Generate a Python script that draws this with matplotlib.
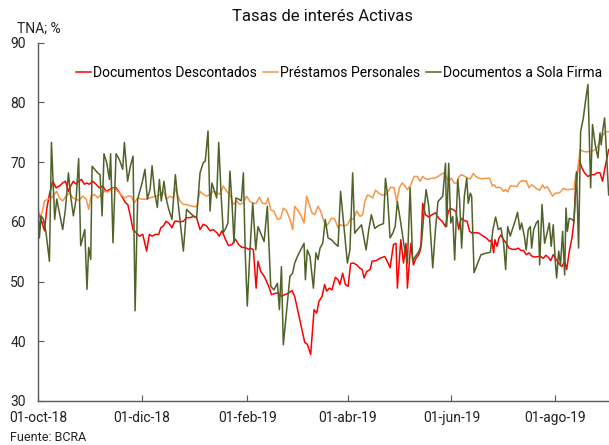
import matplotlib
matplotlib.use("Agg")
import matplotlib.pyplot as plt
import pandas as pd

plt.rcParams['font.family'] = ['Roboto', 'DejaVu Sans']

# dias desde 01-oct-18, tasa (TNA %)
inicio = pd.Timestamp("2018-10-01")

documentos_descontados = [
    (0, 61.2), (1.0, 61), (2.2, 59.8), (3.6, 58.5), (4.9, 62.1), (6.5, 64.6), (8.5, 66.8), (10.4, 65.7),
    (12.4, 66), (14.3, 66.5), (15.9, 66.8), (17.7, 65.1), (19.0, 66), (20.6, 66.8), (22.2, 66.3),
    (23.7, 66.8), (25.3, 67.1), (27.1, 66.3), (28.4, 66.5), (30.0, 66.3), (32.0, 66.8), (33.9, 66.3),
    (35.9, 65.7), (37.9, 66), (39.8, 65.1), (41.8, 65.4), (43.7, 65.7), (45.7, 65.7), (47.7, 64.9),
    (49.6, 64), (51.2, 63.2), (52.6, 62.9), (54.1, 61), (55.7, 58.7), (57.5, 58.2), (59.4, 57.6),
    (61.4, 57.9), (63.7, 55.1), (65.3, 57.9), (66.9, 57.6), (68.8, 57.9), (70.8, 57.9), (72.0, 59),
    (73.5, 59.3), (75.1, 60.1), (76.7, 59.8), (78.6, 59), (80.2, 60.1), (81.8, 60.1), (83.3, 60),
    (85.3, 60.1), (87.2, 60.7), (89.2, 60.7), (91.2, 60.9), (93.1, 60.7), (95.1, 58.7), (97.0, 59.6),
    (99.0, 59.3), (101.0, 58.5), (102.9, 58.7), (104.9, 58.2), (106.4, 57.6), (108.0, 58.5),
    (110.0, 57.1), (111.9, 56), (113.9, 56.2), (115.9, 57.1), (117.8, 56.2), (119.8, 55.7),
    (121.7, 55.7), (123.7, 55.4), (124.9, 55.6), (126.5, 55.3), (128.1, 48.9), (129.2, 53.4),
    (130.8, 51.7), (132.8, 50.9), (134.3, 50), (135.9, 48.9), (137.1, 47.8), (139.0, 48),
    (141.0, 48.1), (143.0, 47.5), (144.9, 47.8), (146.9, 48), (149.2, 48.5), (150.8, 47.5),
    (156.7, 39.8), (158.2, 39.5), (160.2, 37.8), (162.2, 45.3), (163.7, 44.7), (165.1, 46.7),
    (166.9, 47.5), (168.4, 49.5), (169.6, 48.4), (171.2, 48.9), (172.7, 48.6), (174.7, 50.7),
    (176.3, 50.3), (177.4, 49.5), (179.0, 51.4), (180.6, 49.5), (182.2, 49.2), (183.7, 53),
    (185.3, 53.1), (187.3, 52.8), (188.9, 52.3), (190.5, 52), (191.6, 50.6), (193.2, 51.7),
    (195.2, 52), (196.3, 53.4), (198.7, 53.5), (201.0, 53.9), (203.8, 54.2), (205.7, 53.1),
    (206.9, 52.3), (208.9, 56.2), (210.4, 56.4), (211.2, 48.9), (213.2, 57), (214.8, 53.1),
    (216.3, 56.4), (217.1, 48.9), (219.1, 56.4), (220.6, 52.8), (222.2, 53.9), (223.8, 54.5),
    (225.0, 55.6), (226.1, 63.1), (227.7, 61.2), (229.7, 60.8), (231.6, 61.2), (233.6, 61.5),
    (235.5, 60.6), (237.5, 60.1), (239.5, 59.2), (241.0, 61.5), (242.2, 62.3), (244.2, 62),
    (245.7, 61.7), (247.3, 58.7), (248.6, 60.6), (250.6, 60.2), (252.2, 60.1), (253.7, 58.4),
    (255.3, 58.1), (257.3, 58.2), (259.2, 58.1), (261.2, 57.7), (263.5, 57.3), (265.5, 56.7),
    (266.7, 57), (267.8, 54.8), (268.6, 57), (269.8, 55.9), (271.0, 57.3), (272.1, 57.8),
    (273.7, 57), (275.3, 56.4), (276.9, 55.6), (278.8, 55.4), (280.8, 55.4), (282.3, 55.6),
    (283.9, 55.2), (285.5, 55.2), (287.0, 54.5), (288.6, 54.8), (290.6, 54.2), (292.5, 54.1),
    (294.1, 54.2), (295.5, 54.2), (297.0, 53.9), (298.6, 54.4), (300.2, 54), (301.4, 53.5),
    (302.9, 54.5), (304.9, 53.6), (306.8, 52.8), (308.0, 52.5), (309.6, 53.4), (310.8, 52),
    (312.3, 55), (313.9, 57.3), (315.1, 60.1), (315.9, 64.8), (317.0, 67.9), (318.2, 70.4),
    (319.8, 69), (321.3, 68.2), (323.3, 67.6), (325.3, 67.9), (327.2, 67.9), (328.4, 68.2),
    (330.4, 68.2), (331.9, 66.8), (333.5, 69.3), (335.5, 72.1),
]

prestamos_personales = [
    (0, 61.5), (1.0, 61), (2.2, 61.5), (3.6, 63.5), (5.5, 63.8), (7.5, 64), (9.4, 64.6), (10.8, 65.1),
    (12.4, 64), (14.3, 63.5), (16.3, 64.3), (18.3, 64.9), (20.2, 64), (22.2, 63.8), (23.7, 63.6),
    (26.1, 64.3), (28.1, 63.8), (29.6, 62.1), (31.0, 64.3), (33.0, 64.6), (34.9, 64), (36.9, 64.6),
    (38.8, 65.1), (40.8, 65), (42.8, 65.4), (44.7, 65.7), (46.7, 65.1), (48.6, 64.6), (50.6, 64),
    (52.6, 64.3), (54.5, 64.3), (56.5, 63.2), (58.4, 64), (60.4, 63.8), (63.7, 63.8), (65.7, 64),
    (67.6, 64.2), (69.6, 64.3), (71.6, 64.6), (73.5, 65.1), (75.5, 63.8), (77.4, 64.3), (79.4, 64),
    (80.6, 65.7), (81.8, 64.6), (83.3, 63.5), (85.3, 62.9), (87.2, 62.9), (89.2, 62.7), (91.2, 62.6),
    (93.1, 62.5), (95.1, 65.1), (97.0, 64.6), (99.0, 64.3), (101.0, 64.6), (102.9, 65.1),
    (104.9, 64.9), (106.8, 64.6), (108.8, 66), (110.8, 65.1), (112.7, 64.6), (114.7, 62.9),
    (116.6, 63.5), (118.6, 62.9), (120.6, 63.2), (122.5, 64.3), (124.5, 63.4), (126.5, 63.1),
    (128.1, 63.1), (130.0, 64.1), (132.0, 63.1), (133.9, 63), (135.1, 64), (136.7, 62),
    (138.6, 61.8), (140.6, 60.4), (142.6, 60.6), (144.1, 62.3), (146.1, 61.8), (148.0, 60.4),
    (149.6, 58.7), (150.8, 62.6), (152.4, 62), (154.3, 61.2), (156.3, 59.8), (157.8, 64.3),
    (159.4, 62.9), (161.0, 61.5), (162.6, 61.2), (164.5, 62.6), (166.1, 61.8), (167.6, 60.4),
    (169.2, 59.2), (170.8, 59.8), (172.4, 60.6), (174.3, 60.5), (176.3, 59), (177.8, 59.5),
    (179.8, 59.3), (181.8, 59.5), (183.7, 60.6), (185.3, 60.4), (187.3, 61.8), (189.3, 60.9),
    (190.8, 61.2), (192.0, 63.4), (193.6, 64.5), (195.2, 64.3), (196.7, 64), (198.3, 65.3),
    (200.3, 64.8), (202.2, 64.5), (204.2, 64.5), (205.7, 65.1), (207.3, 65.8), (209.3, 65.7),
    (210.8, 63.4), (212.4, 65.7), (214.0, 66.5), (215.9, 65.9), (217.1, 65.4), (219.1, 66.2),
    (221.0, 67.6), (223.0, 67.6), (224.6, 66.8), (226.1, 67.6), (227.7, 67.2), (229.3, 67.1),
    (231.2, 67.3), (233.2, 67.3), (235.1, 67.6), (236.7, 67.9), (238.3, 68.2), (239.8, 67.6),
    (241.4, 66.8), (243.0, 67.3), (244.6, 66.5), (246.3, 66.5), (247.5, 67.6), (249.0, 67.9),
    (251.0, 67.6), (252.5, 67.3), (254.1, 67.2), (255.9, 68.1), (257.3, 67.6), (259.2, 67.3),
    (261.2, 67.2), (263.1, 67.3), (265.5, 67.3), (267.1, 66), (268.2, 66.2), (269.4, 65.7),
    (270.6, 65.8), (272.1, 65.7), (273.7, 65.1), (274.9, 65.4), (276.1, 65), (277.6, 66),
    (279.6, 66), (281.6, 65.9), (282.7, 66.5), (284.3, 66.9), (285.9, 66.8), (287.0, 66.9),
    (288.6, 65.7), (290.2, 66.2), (291.7, 65.9), (293.3, 65.5), (294.9, 65.3), (295.5, 65.6),
    (296.6, 66.2), (297.8, 65.6), (299.4, 65.9), (300.9, 65.1), (302.5, 64.3), (304.1, 64.8),
    (305.7, 64.8), (307.2, 65), (308.8, 65.6), (310.4, 65.4), (311.9, 65.4), (313.5, 65.5),
    (315.1, 65.4), (316.2, 67.9), (317.4, 68.7), (318.6, 72.1), (320.6, 71.8), (322.5, 71.7),
    (324.5, 71.8), (326.4, 71.9), (328.4, 72.2), (330.4, 73.5), (332.3, 74.6), (333.9, 75.1),
    (335.5, 75.1),
]

sola_firma = [
    (0, 62.1), (0.6, 57.3), (1.6, 61), (3.0, 60.4), (4.5, 58.2), (6.5, 53.4), (7.7, 73.3), (9.6, 60.4),
    (10.8, 63.8), (12.4, 61.5), (14.3, 58.7), (15.9, 62.1), (17.7, 68.2), (19.0, 64.3), (20.6, 61),
    (22.2, 63.8), (23.7, 70.6), (24.9, 56), (27.3, 58.7), (28.6, 48.7), (29.6, 55.7), (30.8, 53.7),
    (31.6, 69.3), (33.1, 68.8), (34.9, 68.2), (36.3, 67.9), (37.5, 61), (38.6, 71.4), (40.2, 69.9),
    (41.8, 67.1), (42.5, 71.4), (43.9, 56.5), (45.7, 71.4), (47.7, 70.4), (49.6, 68.8), (50.6, 73.3),
    (52.5, 66.8), (54.1, 69.3), (55.7, 71), (56.9, 45.1), (58.4, 63.8), (61.0, 66.5), (62.7, 68.8),
    (64.1, 63.8), (65.7, 65.4), (66.9, 69.4), (68.4, 64.9), (70.0, 62.4), (71.2, 67.1), (72.3, 63.5),
    (73.9, 66.8), (75.1, 64), (76.7, 62.1), (78.6, 60.4), (80.6, 67.9), (81.8, 64.3), (83.3, 60.4),
    (85.3, 55.1), (87.2, 62.1), (89.2, 61.5), (91.2, 61), (93.1, 60.7), (95.1, 68.2), (97.0, 69.9),
    (98.2, 70.2), (99.8, 75.2), (101.0, 61.8), (102.1, 66.5), (103.7, 65.1), (104.9, 64),
    (106.1, 73.3), (107.6, 64), (108.8, 58.2), (110.4, 59), (111.5, 59.8), (112.7, 68.5),
    (113.9, 63.2), (115.1, 56.5), (116.2, 64), (117.8, 63.8), (119.4, 63.5), (120.6, 68.2),
    (121.7, 54.8), (122.9, 45.9), (124.5, 55.3), (126.1, 63.1), (127.9, 55.3), (129.2, 59.2),
    (130.8, 58.1), (132.8, 56.7), (134.7, 62.6), (136.7, 49.2), (138.6, 48.6), (140.6, 49.7),
    (141.8, 45.3), (143.0, 52.5), (144.1, 39.4), (146.1, 45.3), (148.0, 50.9), (149.6, 51.4),
    (150.8, 53.1), (152.4, 54.2), (154.3, 55.3), (156.3, 56.4), (157.1, 50.3), (158.2, 55.3),
    (159.8, 54.2), (161.8, 48.9), (163.3, 54.8), (164.5, 53.7), (165.7, 55.6), (167.3, 56.4),
    (168.8, 60.4), (170.4, 57.3), (172.4, 57), (174.3, 56.4), (176.3, 55.9), (177.8, 65.1),
    (179.8, 59), (181.8, 53.1), (183.3, 55.3), (184.9, 68.2), (186.1, 58.1), (187.7, 58.7),
    (190.1, 59.5), (192.8, 55.3), (194.4, 58.7), (195.9, 61.2), (197.9, 58.9), (200.3, 59.4),
    (203.0, 59.7), (204.2, 67.3), (205.4, 64.5), (206.9, 57.3), (208.5, 58.1), (209.9, 59.2),
    (211.2, 63.4), (213.2, 59.8), (215.2, 55.9), (217.1, 53.1), (218.7, 65.7), (220.2, 53.4),
    (221.8, 54.2), (223.8, 55), (225.3, 56.2), (226.9, 61.7), (228.1, 65.4), (229.7, 62.6),
    (232.0, 52.3), (233.6, 58.7), (235.1, 63.4), (237.9, 64.3), (239.5, 69.8), (240.2, 59.2),
    (241.4, 69.8), (242.6, 59.8), (243.8, 60.9), (244.9, 53.6), (246.7, 67.1), (247.8, 63.7),
    (249.0, 55.6), (250.6, 64.3), (252.0, 67.3), (252.9, 63.1), (254.1, 64.8), (254.9, 64.3),
    (256.3, 51.5), (260.4, 54.5), (262.7, 54.7), (265.9, 54.9), (267.4, 58.7), (269.0, 60.8),
    (270.6, 58.7), (272.1, 59), (273.7, 56.4), (274.9, 52), (276.1, 59.2), (277.6, 57.6),
    (278.8, 58.7), (280.4, 60.1), (281.9, 61.6), (283.3, 58.7), (284.3, 59.8), (285.9, 57.6),
    (287.0, 55.3), (288.2, 58.7), (289.4, 59.2), (290.2, 55.6), (291.4, 58.7), (292.9, 59.8),
    (294.1, 60.2), (294.9, 52.8), (296.3, 62.9), (297.8, 56.4), (299.0, 57.8), (300.6, 59.8),
    (301.7, 55.9), (302.9, 59.5), (304.1, 53.4), (304.9, 50.6), (306.1, 55.1), (307.2, 52.8),
    (308.4, 58.4), (309.6, 51.1), (310.4, 62.3), (311.2, 58.4), (312.3, 60.6), (313.9, 60.4),
    (315.1, 60.1), (316.6, 68.4), (317.8, 55.6), (319.0, 75.1), (320.6, 77.4), (322.1, 80.7),
    (323.3, 83), (324.9, 65.7), (326.0, 76.3), (327.6, 72.9), (329.2, 70.7), (330.4, 74.9),
    (331.1, 72.9), (331.9, 75.1), (333.1, 77.4), (334.3, 71.2), (335.5, 64.5),
]

series = [
    ("Documentos Descontados", documentos_descontados, "#FF0000"),
    ("Préstamos Personales", prestamos_personales, "#F79646"),
    ("Documentos a Sola Firma", sola_firma, "#4F6228"),
]

ticks_fechas = ["2018-10-01", "2018-12-01", "2019-02-01", "2019-04-01", "2019-06-01", "2019-08-01"]
ticks_labels = ["01-oct-18", "01-dic-18", "01-feb-19", "01-abr-19", "01-jun-19", "01-ago-19"]


def a_fechas(dias):
    return inicio + pd.to_timedelta(dias, unit="D")


fig = plt.figure(figsize=(6.09, 4.45), dpi=100)
ax = fig.add_axes([0.063, 0.099, 0.937, 0.805])

for nombre, datos, color in series:
    dias = [d for d, _ in datos]
    vals = [v for _, v in datos]
    ax.plot(a_fechas(dias), vals, color=color, lw=1.1, label=nombre)

ax.set_ylim(30, 90)
ax.set_yticks(range(30, 91, 10))
ax.set_xlim(inicio, a_fechas(335.7))
ax.set_xticks(pd.to_datetime(ticks_fechas))
ax.set_xticklabels(ticks_labels)

for s in ["top", "right"]:
    ax.spines[s].set_visible(False)
for s in ["left", "bottom"]:
    ax.spines[s].set_color("#595959")
    ax.spines[s].set_linewidth(1.0)

ax.tick_params(axis="both", direction="in", length=4, color="#595959", labelsize=10,
               labelcolor="#222222")
ax.tick_params(axis="y", pad=9)
ax.tick_params(axis="x", pad=7)

ax.legend(loc="center", bbox_to_anchor=(0.527, 0.916), ncol=3, frameon=False, fontsize=10,
          handlelength=1.1, handletextpad=0.15, columnspacing=0.4, borderaxespad=0)

fig.text(0.53, 0.962, "Tasas de interés Activas", ha="center", va="center", fontsize=12,
         color="#111111")
fig.text(0.028, 0.935, "TNA; %", ha="left", va="center", fontsize=10, color="#222222")
fig.text(0.016, 0.016, "Fuente: BCRA", ha="left", va="center", fontsize=9, color="#222222")

fig.savefig("out.png", dpi=100)
